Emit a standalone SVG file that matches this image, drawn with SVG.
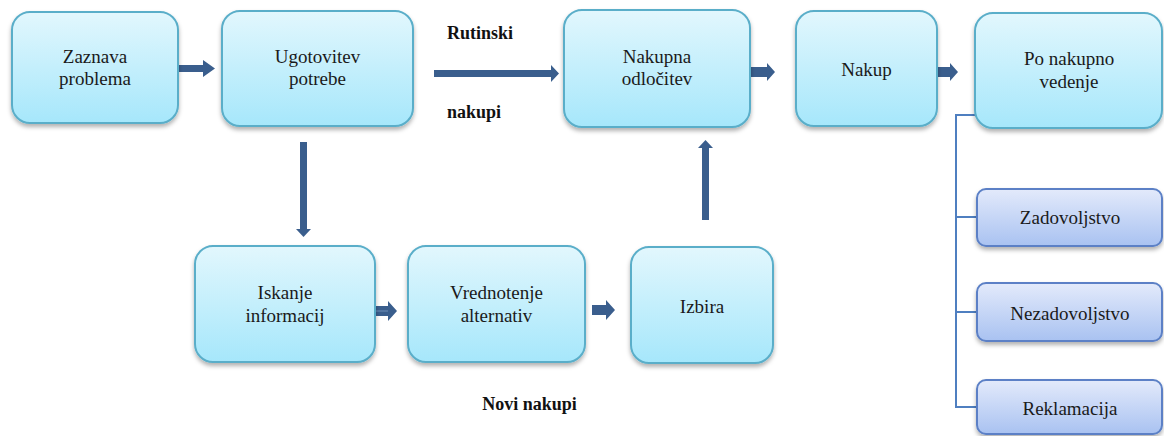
<svg xmlns="http://www.w3.org/2000/svg" width="1164" height="436" viewBox="0 0 1164 436">
  <defs>
    <linearGradient id="gCyan" x1="0" y1="0" x2="0" y2="1">
      <stop offset="0" stop-color="#e2f7fd"/>
      <stop offset="1" stop-color="#a6e7fb"/>
    </linearGradient>
    <linearGradient id="gBlue" x1="0" y1="0" x2="0" y2="1">
      <stop offset="0" stop-color="#e3eafb"/>
      <stop offset="1" stop-color="#a9c2f1"/>
    </linearGradient>
    <filter id="shadow" x="-10%" y="-10%" width="120%" height="130%">
      <feDropShadow dx="0" dy="3" stdDeviation="2" flood-color="#000000" flood-opacity="0.3"/>
    </filter>
  </defs>
  <style>
    .box { fill: url(#gCyan); stroke: #5aaec9; stroke-width: 2; filter: url(#shadow); }
    .sbox { fill: url(#gBlue); stroke: #5b80c6; stroke-width: 2; filter: url(#shadow); }
    text { font-family: 'Liberation Serif', 'DejaVu Serif', serif; }
    .t { font-size: 19px; fill: #1a1a1a; text-anchor: middle; }
    .b { font-size: 18px; font-weight: bold; fill: #111111; }
    .arr { fill: #3a5e8d; }
    .ln { fill: none; stroke: #4f7fc0; stroke-width: 2; }
  </style>
  <rect width="1164" height="436" fill="#ffffff"/>

  <g id="connectors">
    <polygon class="arr" points="179,65 203,65 203,60 215,68.5 203,77 203,72 179,72"/>
    <polygon class="arr" points="434,70 551,70 551,65 559,73.5 551,82 551,77 434,77"/>
    <polygon class="arr" points="746,67 767,67 767,63 775,72 767,81 767,77 746,77"/>
    <polygon class="arr" points="935,67 950,67 950,63 958,72 950,81 950,77 935,77"/>
    <polygon class="arr" points="300,142 307,142 307,229 311,229 303.5,237 296,229 300,229"/>
    <polygon class="arr" points="373,306 388,306 388,301 397,311 388,321 388,316 373,316"/>
    <line x1="374" y1="311" x2="388" y2="311" stroke="#6f8fb8" stroke-width="1"/>
    <polygon class="arr" points="592,305 606,305 606,300 615,310 606,320 606,315 592,315"/>
    <polygon class="arr" points="702,220 709,220 709,148 713,148 705.5,140 698,148 702,148"/>
    <polyline class="ln" points="975,115 956,115 956,407 977,407"/>
    <line class="ln" x1="956" y1="217" x2="977" y2="217"/>
    <line class="ln" x1="956" y1="312" x2="977" y2="312"/>
  </g>

  <g id="n-zaznava">
    <rect class="box" x="12" y="12" width="166" height="111" rx="18"/>
    <text class="t" x="95" y="63">Zaznava</text>
    <text class="t" x="95" y="85">problema</text>
  </g>
  <g id="n-ugotovitev">
    <rect class="box" x="222" y="11" width="191" height="115" rx="18"/>
    <text class="t" x="317.5" y="63">Ugotovitev</text>
    <text class="t" x="317.5" y="85">potrebe</text>
  </g>
  <g id="n-odlocitev">
    <rect class="box" x="564" y="10" width="186" height="117" rx="18"/>
    <text class="t" x="657" y="63">Nakupna</text>
    <text class="t" x="657" y="85">odločitev</text>
  </g>
  <g id="n-nakup">
    <rect class="box" x="796" y="11" width="141" height="115" rx="18"/>
    <text class="t" x="866.5" y="76">Nakup</text>
  </g>
  <g id="n-ponakupno">
    <rect class="box" x="975" y="13" width="187" height="115" rx="18"/>
    <text class="t" x="1069" y="65">Po nakupno</text>
    <text class="t" x="1069" y="88">vedenje</text>
  </g>
  <g id="n-iskanje">
    <rect class="box" x="195" y="246" width="180" height="116" rx="18"/>
    <text class="t" x="285" y="299">Iskanje</text>
    <text class="t" x="285" y="322">informacij</text>
  </g>
  <g id="n-vrednotenje">
    <rect class="box" x="408" y="246" width="177" height="116" rx="18"/>
    <text class="t" x="496.5" y="299">Vrednotenje</text>
    <text class="t" x="496.5" y="322">alternativ</text>
  </g>
  <g id="n-izbira">
    <rect class="box" x="631" y="247" width="142" height="116" rx="18"/>
    <text class="t" x="702" y="313">Izbira</text>
  </g>
  <g id="n-zadovoljstvo">
    <rect class="sbox" x="977" y="189" width="185" height="57" rx="9"/>
    <text class="t" x="1070" y="224">Zadovoljstvo</text>
  </g>
  <g id="n-nezadovoljstvo">
    <rect class="sbox" x="977" y="283" width="185" height="58" rx="9"/>
    <text class="t" x="1070" y="320">Nezadovoljstvo</text>
  </g>
  <g id="n-reklamacija">
    <rect class="sbox" x="977" y="380" width="185" height="54" rx="9"/>
    <text class="t" x="1070" y="415">Reklamacija</text>
  </g>

  <g id="labels">
    <text class="b" x="447" y="39">Rutinski</text>
    <text class="b" x="447" y="118">nakupi</text>
    <text class="b" x="529.5" y="410" text-anchor="middle">Novi nakupi</text>
  </g>
</svg>
